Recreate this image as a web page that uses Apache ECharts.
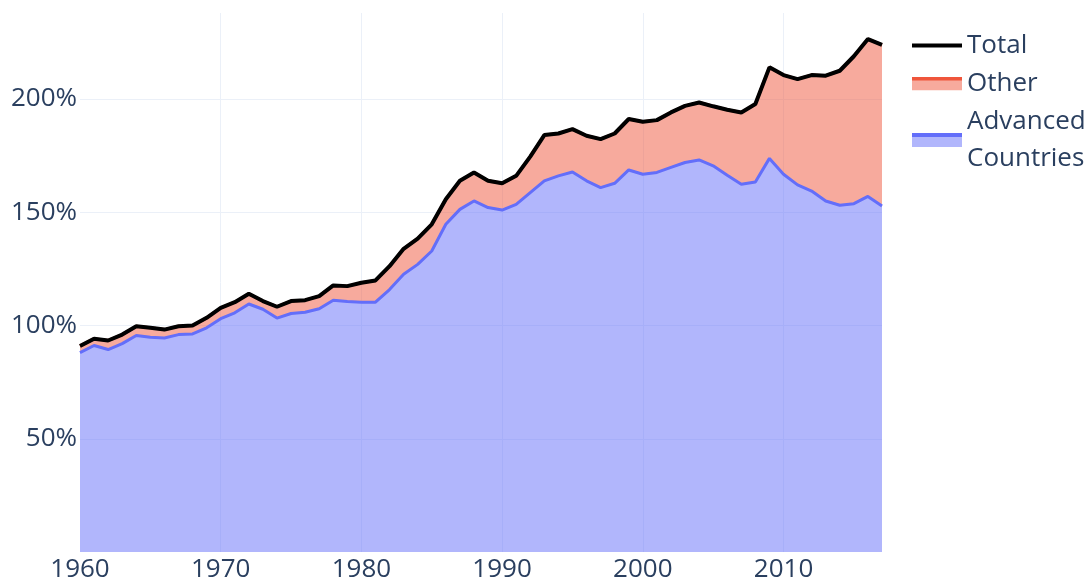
<!DOCTYPE html>
<html>
<head>
<meta charset="utf-8">
<script src="https://cdn.jsdelivr.net/npm/echarts@6/dist/echarts.min.js"></script>
<style>
  html, body { margin: 0; padding: 0; background: #fff; }
  #chart { width: 1092px; height: 585px; }
</style>
</head>
<body>
<div id="chart"></div>
<script>
// values, in percent
const years = [1960, 1961, 1962, 1963, 1964, 1965, 1966, 1967, 1968, 1969,
  1970, 1971, 1972, 1973, 1974, 1975, 1976, 1977, 1978, 1979,
  1980, 1981, 1982, 1983, 1984, 1985, 1986, 1987, 1988, 1989,
  1990, 1991, 1992, 1993, 1994, 1995, 1996, 1997, 1998, 1999,
  2000, 2001, 2002, 2003, 2004, 2005, 2006, 2007, 2008, 2009,
  2010, 2011, 2012, 2013, 2014, 2015, 2016, 2017];

const advanced = [88.0, 91.2, 89.4, 92.0, 95.6, 94.8, 94.5, 96.0, 96.3, 99.0,
  103.0, 105.6, 109.5, 107.2, 103.3, 105.3, 105.9, 107.4, 111.2, 110.6,
  110.3, 110.3, 115.9, 122.6, 127.0, 132.9, 144.7, 151.3, 155.0, 152.1,
  151.0, 153.5, 158.7, 163.9, 166.1, 167.8, 163.9, 160.9, 162.8, 168.7,
  166.8, 167.6, 169.8, 172.0, 173.1, 170.5, 166.4, 162.4, 163.4, 173.8,
  166.8, 162.1, 159.4, 155.0, 153.1, 153.8, 157.0, 152.8];

const total = [91.0, 94.2, 93.4, 96.0, 99.7, 99.0, 98.2, 99.7, 100.0, 103.4,
  107.8, 110.3, 114.0, 110.8, 108.3, 110.8, 111.2, 113.0, 117.7, 117.4,
  118.9, 119.9, 126.2, 133.9, 138.4, 144.7, 155.8, 163.9, 167.6, 163.9,
  162.8, 166.1, 174.6, 184.1, 184.8, 186.7, 183.8, 182.3, 184.8, 191.2,
  190.0, 190.7, 194.1, 197.0, 198.5, 196.8, 195.3, 194.1, 197.8, 214.0,
  210.6, 208.8, 210.6, 210.3, 212.5, 218.9, 226.5, 223.9];

const yTicks = [0, 50, 100, 150, 200];

const FONT = '"Open Sans", verdana, arial, sans-serif';
const TEXT = '#2a3f5f';
const GRID = '#ebf0f8';

// legend swatches like plotly's: line on top of the fill
function swatch(line, fill, lineOnly) {
  let svg = '<svg xmlns="http://www.w3.org/2000/svg" width="50" height="14" viewBox="0 0 50 14">';
  if (lineOnly) {
    svg += '<line x1="0" y1="7" x2="50" y2="7" stroke="' + line + '" stroke-width="4"/>';
  } else {
    svg += '<rect x="0" y="2" width="50" height="12" fill="' + fill + '"/>';
    svg += '<line x1="0" y1="2" x2="50" y2="2" stroke="' + line + '" stroke-width="4"/>';
  }
  svg += '</svg>';
  return 'image://data:image/svg+xml;charset=utf-8,' + encodeURIComponent(svg);
}

// "Other" is the gap between the total and the advanced countries
const other = total.map((t, i) => +(t - advanced[i]).toFixed(1));

const chart = echarts.init(document.getElementById('chart'));
chart.setOption({
  animation: false,
  textStyle: { fontFamily: FONT },
  grid: { left: 80, right: 210, top: 13, bottom: 33 },
  legend: {
    orient: 'vertical',
    left: 907,
    top: 22,
    itemWidth: 50,
    itemHeight: 14,
    itemGap: 1,
    textStyle: { color: TEXT, fontSize: 26, lineHeight: 37, fontFamily: FONT },
    formatter: (name) => name.replace(' ', '\n'),
    data: [
      { name: 'Total', icon: swatch('#000000', null, true) },
      { name: 'Other', icon: swatch('#EF553B', '#f7aa9d') },
      { name: 'Advanced Countries', icon: swatch('#636efa', '#b1b6fc') }
    ]
  },
  xAxis: {
    type: 'category',
    boundaryGap: false,
    data: years.map(String),
    axisLine: { show: false },
    axisTick: { show: false },
    axisLabel: { color: TEXT, fontSize: 26, margin: 5, interval: 9, fontFamily: FONT },
    splitLine: { show: true, interval: (i) => i > 0 && i % 10 === 0, lineStyle: { color: GRID, width: 1 } }
  },
  yAxis: {
    type: 'value',
    min: yTicks[0],
    max: 238,
    interval: 50,
    axisLine: { show: false },
    axisTick: { show: false },
    axisLabel: {
      color: TEXT, fontSize: 26, margin: 3, fontFamily: FONT,
      showMinLabel: false, showMaxLabel: false,
      formatter: (v) => (yTicks.indexOf(v) >= 0 ? v + '%' : '')
    },
    splitLine: { show: true, showMinLine: false, showMaxLine: false, lineStyle: { color: GRID, width: 1 } }
  },
  series: [
    {
      name: 'Advanced Countries',
      type: 'line',
      stack: 'share',
      z: 3,
      data: advanced,
      showSymbol: false,
      lineStyle: { color: '#636efa', width: 3 },
      itemStyle: { color: '#636efa' },
      areaStyle: { color: '#636efa', opacity: 0.5 }
    },
    {
      name: 'Other',
      type: 'line',
      stack: 'share',
      z: 2,
      data: other,
      showSymbol: false,
      lineStyle: { color: '#EF553B', width: 3 },
      itemStyle: { color: '#EF553B' },
      areaStyle: { color: '#EF553B', opacity: 0.5 }
    },
    {
      name: 'Total',
      type: 'line',
      z: 4,
      data: total,
      showSymbol: false,
      lineStyle: { color: '#000000', width: 4 },
      itemStyle: { color: '#000000' }
    }
  ]
});
</script>
</body>
</html>
